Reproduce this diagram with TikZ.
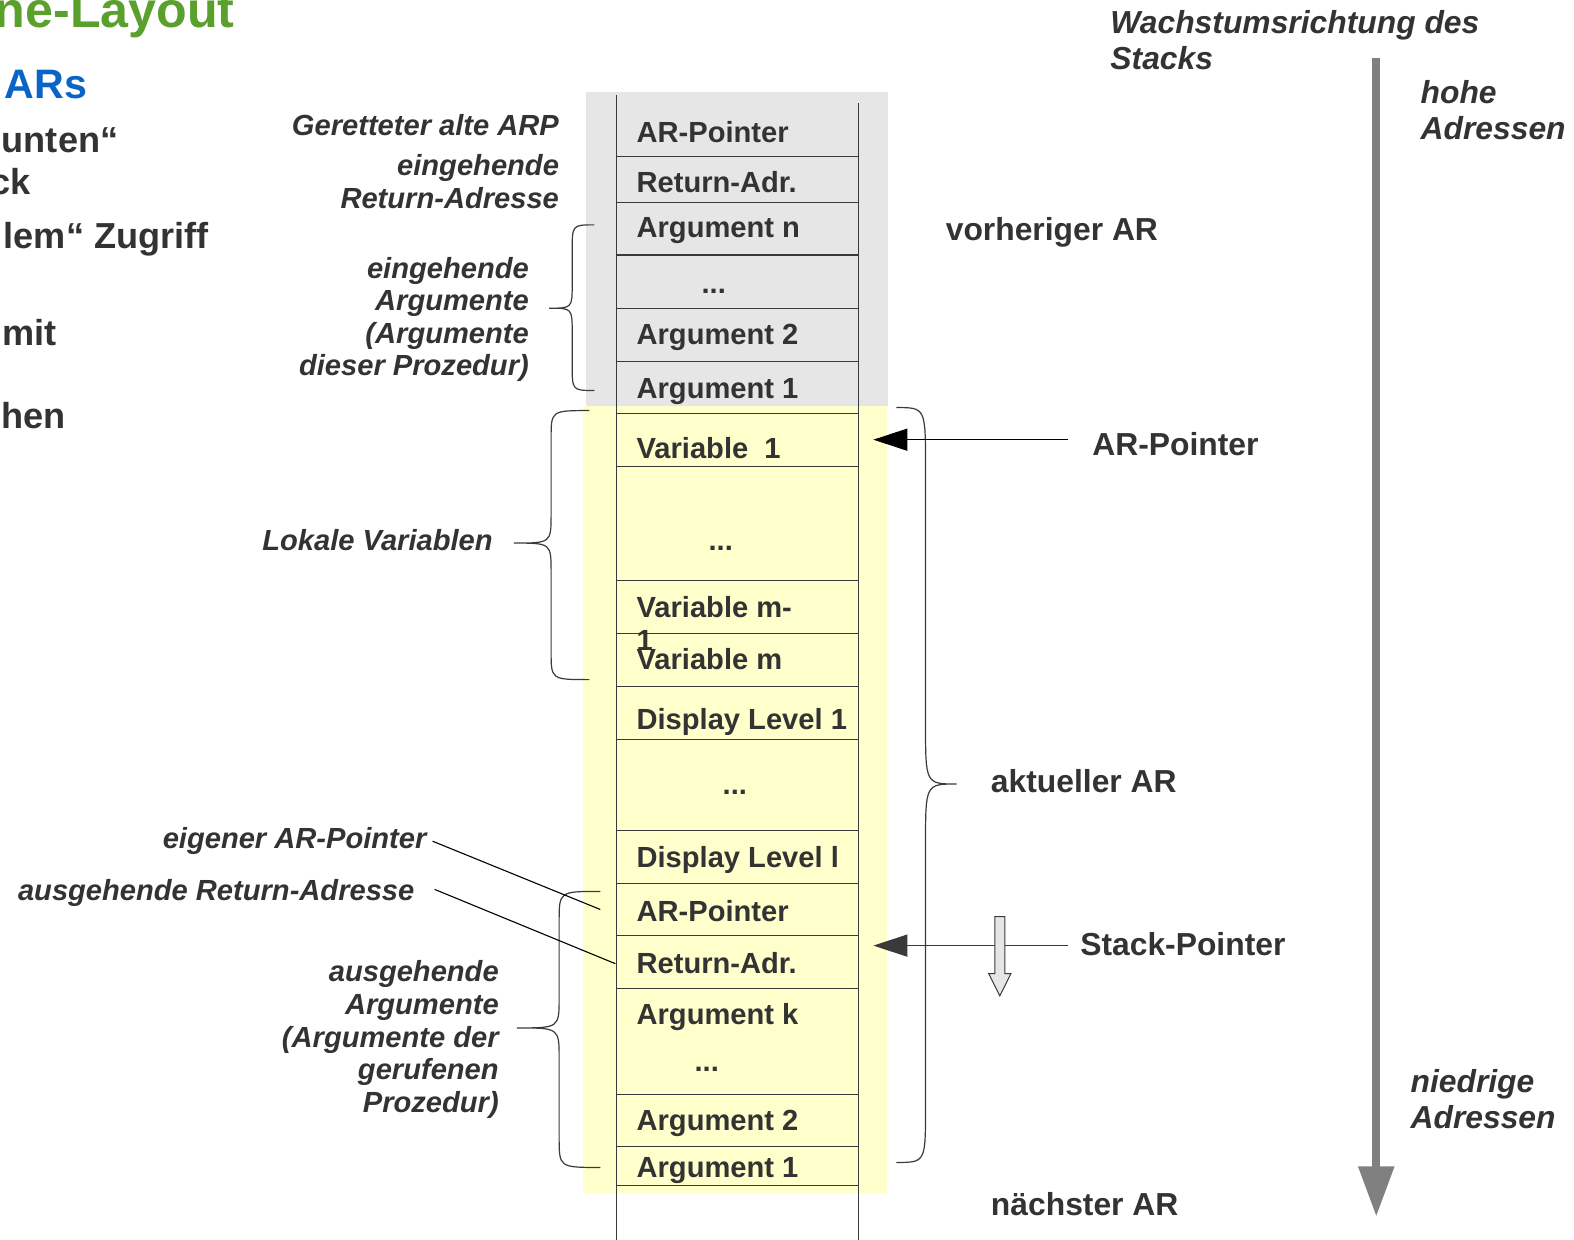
\documentclass[tikz,border=0pt]{standalone}
\usepackage{fontspec}
\setmainfont{Liberation Sans}
\usetikzlibrary{arrows.meta}

\definecolor{ink}{HTML}{333333}
\definecolor{rule}{HTML}{3A3A3A}
\definecolor{oldar}{HTML}{E6E6E6}
\definecolor{curar}{HTML}{FFFFCC}
\definecolor{titlegreen}{HTML}{5AA02C}
\definecolor{titleblue}{HTML}{0A64C8}
\definecolor{growth}{HTML}{808080}

\tikzset{
  celltext/.style={anchor=base west, inner sep=0pt, text=ink, font=\fontsize{29}{33}\selectfont\bfseries},
  celldots/.style={anchor=base, inner sep=0pt, text=ink, font=\fontsize{29}{33}\selectfont\bfseries},
  sidelabel/.style={anchor=base east, inner sep=0pt, text=ink, font=\fontsize{29}{32.5}\selectfont\bfseries\itshape},
  arlabel/.style={anchor=base west, inner sep=0pt, text=ink, font=\fontsize{31.7}{36}\selectfont\bfseries},
  dirlabel/.style={anchor=base west, inner sep=0pt, text=ink, font=\fontsize{31.7}{36}\selectfont\bfseries\itshape},
  slidetext/.style={anchor=base east, inner sep=0pt, text=ink, font=\fontsize{36}{42}\selectfont\bfseries},
  cellrule/.style={draw=rule, line width=1.3pt},
  bracepath/.style={draw=rule, line width=1.2pt},
  leader/.style={draw=black, line width=1.1pt},
  pointer/.style={line width=1.3pt, -{Triangle[length=34pt,width=22pt]}},
}

\begin{document}
\begin{tikzpicture}[x=1pt,y=-1pt]
\useasboundingbox (0,0) rectangle (1568,1235);
\clip (0,0) rectangle (1568,1235);

% slide text running off the left edge
\node[anchor=base east, inner sep=0pt, text=titlegreen, font=\fontsize{50}{58}\selectfont\bfseries] (title) at (234,27) {ne-Layout};
\node[anchor=base east, inner sep=0pt, text=titleblue, font=\fontsize{41}{48}\selectfont\bfseries] (sub) at (87,98) {ARs};
\node[slidetext] (s1) at (118,152) {unten“};
\node[slidetext] (s2) at (31,194) {ck};
\node[slidetext] (s3) at (208,248) {lem“ Zugriff};
\node[slidetext] (s4) at (57,344) {mit};
\node[slidetext] (s5) at (66,427) {hen};

% activation record backgrounds
\fill[oldar] (584,92) rectangle (885,404);
\fill[curar] (581,404) rectangle (884,1188);

% stack columns and cell borders
\draw[cellrule] (614,95) -- (614,1235);
\draw[cellrule] (855,103) -- (855,1235);
\foreach \y in {156,202,254,307,360,412,465,578,631,684,737,827,880,932,985,1090,1142,1181}
  \draw[cellrule] (614,\y) -- (855,\y);

% previous AR
\node[celltext] (c1) at (634,142) {AR-Pointer};
\node[celltext] (c2) at (634,192) {Return-Adr.};
\node[celltext] (c3) at (634,237) {Argument n};
\node[celldots] (c4) at (711,292) {...};
\node[celltext] (c5) at (634,343) {Argument 2};
\node[celltext] (c6) at (634,397) {Argument 1};
% current AR
\node[celltext] (c7) at (634,457) {Variable\ \ 1};
\node[celldots] (c8) at (718,548) {...};
\node[celltext] (c9) at (634,615) {\begin{tabular}[t]{@{}l@{}}Variable m-\\1\end{tabular}};
\node[celltext] (c10) at (634,667) {Variable m};
\node[celltext] (c11) at (634,727) {Display Level 1};
\node[celldots] (c12) at (732,791) {...};
\node[celltext] (c13) at (634,864) {Display Level l};
\node[celltext] (c14) at (634,918) {AR-Pointer};
\node[celltext] (c15) at (634,970) {Return-Adr.};
\node[celltext] (c16) at (634,1021) {Argument k};
\node[celldots] (c17) at (704,1067) {...};
\node[celltext] (c18) at (634,1126) {Argument 2};
\node[celltext] (c19) at (634,1173) {Argument 1};

% descriptions on the left
\node[sidelabel] (lArp) at (557,135) {Geretteter alte ARP};
\node[sidelabel] (lRet) at (557,175) {\begin{tabular}[t]{@{}r@{}}eingehende\\Return-Adresse\end{tabular}};
\node[sidelabel] (lIn) at (527,277) {\begin{tabular}[t]{@{}r@{}}eingehende\\Argumente\\(Argumente\\dieser Prozedur)\end{tabular}};
\node[sidelabel] (lLoc) at (491,548) {Lokale Variablen};
\node[sidelabel] (lOwn) at (425,845) {eigener AR-Pointer};
\node[sidelabel] (lOut) at (413,897) {ausgehende Return-Adresse};
\node[sidelabel] (lArgs) at (497,978) {\begin{tabular}[t]{@{}r@{}}ausgehende\\Argumente\\(Argumente der\\gerufenen\\Prozedur)\end{tabular}};

% braces
\draw[bracepath] (592,224) .. controls (570,224) .. (570,250) -- (570,283)
  .. controls (570,307) .. (547,307) .. controls (570,307) .. (570,331)
  -- (570,363) .. controls (570,389) .. (592,389);
\draw[bracepath] (587,409) .. controls (549,409) .. (549,437) -- (549,512)
  .. controls (549,541) .. (512,541) .. controls (549,541) .. (549,570)
  -- (549,649) .. controls (549,677) .. (587,677);
\draw[bracepath] (893,406) .. controls (922,406) .. (922,466) -- (922,721)
  .. controls (922,781) .. (953,781) .. controls (922,781) .. (922,841)
  -- (922,1102) .. controls (922,1158) .. (893,1158);
\draw[bracepath] (598,888) .. controls (557,888) .. (557,918) -- (557,994)
  .. controls (557,1024) .. (515,1024) .. controls (557,1024) .. (557,1054)
  -- (557,1133) .. controls (557,1163) .. (598,1163);

% leader lines to the outgoing cells
\coordinate (ownFrom) at (431,838);
\coordinate (ownTo) at (598,906);
\coordinate (outFrom) at (433,886);
\coordinate (outTo) at (613,960);
\draw[leader] (ownFrom) -- (ownTo);
\draw[leader] (outFrom) -- (outTo);

% labels on the right
\node[arlabel] (rPrev) at (942,240) {vorheriger AR};
\node[arlabel] (rArp) at (1088,454) {AR-Pointer};
\node[arlabel] (rCur) at (987,789) {aktueller AR};
\node[arlabel] (rSp) at (1076,952) {Stack-Pointer};
\node[arlabel] (rNext) at (987,1211) {nächster AR};

% pointers into the stack
\coordinate (arpTail) at (1064,438);
\coordinate (arpHead) at (870,438);
\coordinate (spTail) at (1064,942);
\coordinate (spHead) at (870,942);
\draw[pointer, black] (arpTail) -- (arpHead);
\draw[pointer, draw=rule, fill=black] (spTail) -- (spHead);

% stack pointer moves downward
\draw[draw=rule, fill=oldar, line width=1pt] (991,913) -- (1001,913) -- (1001,970)
  -- (1007,970) -- (996,992) -- (985,970) -- (991,970) -- cycle;

% growth direction
\node[dirlabel] (dir) at (1106,33) {\begin{tabular}[t]{@{}l@{}}Wachstumsrichtung des\\Stacks\end{tabular}};
\node[dirlabel] (hi) at (1415,103) {\begin{tabular}[t]{@{}l@{}}hohe\\Adressen\end{tabular}};
\node[dirlabel] (lo) at (1405,1088) {\begin{tabular}[t]{@{}l@{}}niedrige\\Adressen\end{tabular}};
\coordinate (growTop) at (1371,58);
\coordinate (growTip) at (1371,1212);
\draw[growth, line width=8pt, -{Triangle[length=50pt,width=34pt]}] (growTop) -- (growTip);
\end{tikzpicture}
\end{document}
